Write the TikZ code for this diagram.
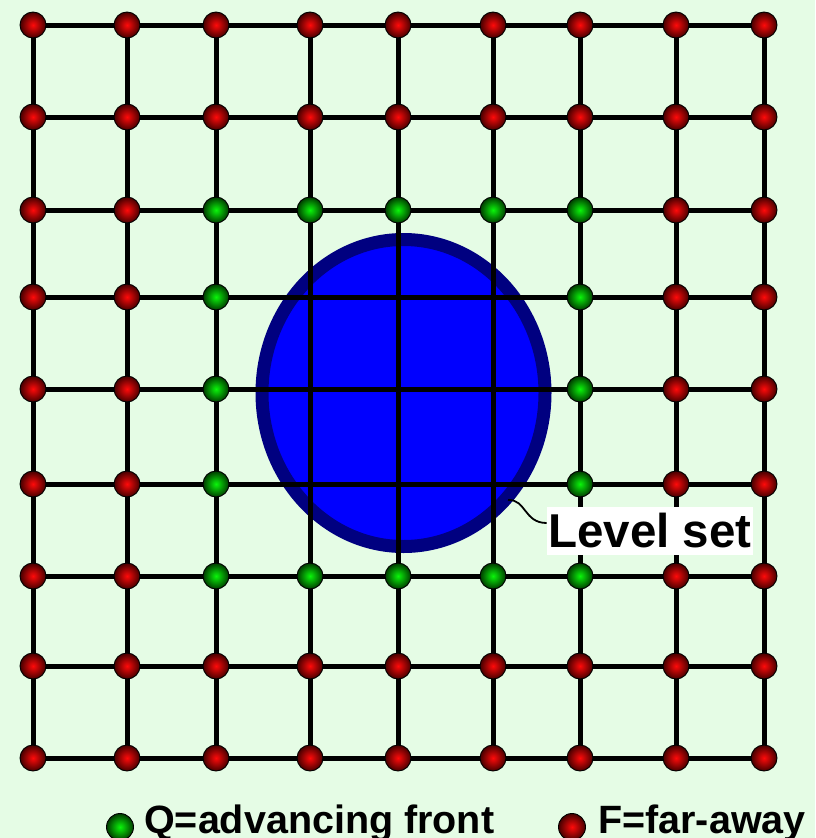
\documentclass[tikz,border=0pt]{standalone}
\usepackage{fontspec}
\setmainfont{Liberation Sans}
\usetikzlibrary{shapes.geometric}
\definecolor{bgcol}{RGB}{229,252,229}
\definecolor{navyblue}{RGB}{0,0,128}
\definecolor{pureblue}{RGB}{0,0,255}
\definecolor{redin}{RGB}{255,10,10}
\definecolor{redout}{RGB}{70,0,0}
\definecolor{greenin}{RGB}{10,245,10}
\definecolor{greenout}{RGB}{0,60,0}
\begin{document}
\begin{tikzpicture}[x=1pt,y=-1pt,
  ball/.style={circle,minimum size=26pt,inner sep=0pt,draw=black,line width=0.9pt,shading=radial},
  redball/.style={ball,inner color=redin,outer color=redout},
  greenball/.style={ball,inner color=greenin,outer color=greenout},
  gridline/.style={line width=5pt,black},
  lbl/.style={font=\bfseries\fontsize{39.5}{39.5}\selectfont,inner sep=0pt,anchor=base west}]
\fill[bgcol] (0,0) rectangle (815,838);
\useasboundingbox (0,0) rectangle (815,838);
% level set
\node[ellipse,draw=navyblue,line width=13pt,fill=pureblue,minimum width=283pt,minimum height=307pt,inner sep=0pt] (blob) at (403.5,393) {};
% grid coordinates
\foreach \x [count=\i] in {33,127,216,310,398,493,580,676,764}{
  \foreach \y [count=\j] in {25,117,210,297,389,484,576,666,758}{
    \coordinate (p-\i-\j) at (\x,\y);
  }
}
\foreach \k in {1,...,9}{
  \draw[gridline] (p-1-\k) -- (p-9-\k);
  \draw[gridline] (p-\k-1) -- (p-\k-9);
}
% red nodes
\foreach \i in {1,...,9}{
  \foreach \j in {1,2,8,9}{
    \node[redball] (n-\i-\j) at (p-\i-\j) {};
  }
}
\foreach \i in {1,2,8,9}{
  \foreach \j in {3,...,7}{
    \node[redball] (n-\i-\j) at (p-\i-\j) {};
  }
}
% green nodes
\foreach \i in {3,...,7}{
  \node[greenball] (n-\i-3) at (p-\i-3) {};
  \node[greenball] (n-\i-7) at (p-\i-7) {};
}
\foreach \j in {4,5,6}{
  \node[greenball] (n-3-\j) at (p-3-\j) {};
  \node[greenball] (n-7-\j) at (p-7-\j) {};
}
% label
\node[fill=white,font=\bfseries\fontsize{47.5}{47.5}\selectfont,text height=40pt,text depth=8pt,inner xsep=1.5pt,inner ysep=0pt] (label) at (650,531) {Level set};
\coordinate (ls) at (508,500);
\draw[line width=1.8pt] (ls) .. controls (526,499) and (524,523) .. ([yshift=8pt]label.west);
% legend
\node[greenball,minimum size=27pt] (lq) at (120,827) {};
\node[lbl] (qtext) at (144,833) {Q=advancing front};
\node[redball,minimum size=27pt] (lf) at (572,827) {};
\node[lbl] (ftext) at (598,833) {F=far-away};
\end{tikzpicture}
\end{document}
